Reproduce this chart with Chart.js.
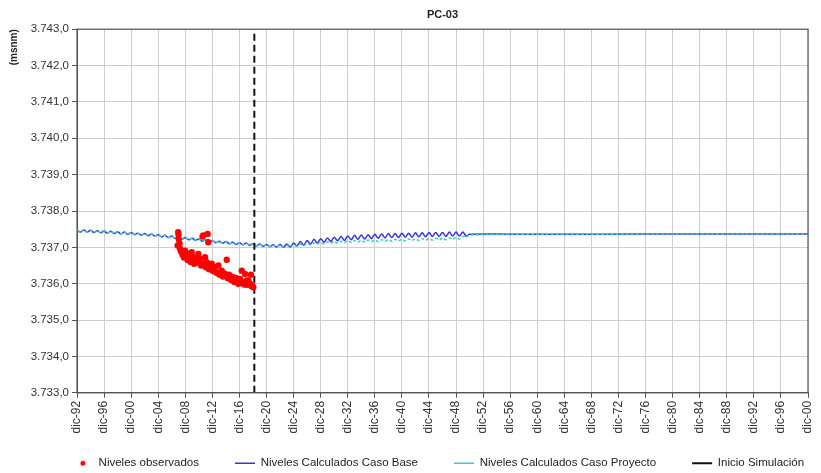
<!DOCTYPE html>
<html>
<head>
<meta charset="utf-8">
<script src="https://cdn.jsdelivr.net/npm/chart.js@4.4.1/dist/chart.umd.min.js"></script>
<style>
  html, body { margin: 0; padding: 0; background: #fff; }
  #wrap { width: 821px; height: 473px; }
</style>
</head>
<body>
<div id="wrap"><canvas id="grafico"></canvas></div>
<script>
// ticks eje x (años, etiqueta dic-AA)
var anioIni = 1992;
var anioFin = 2100;
var pasoTick = 4;
var inicioSimulacion = 2018.2;
var nivelMin = 3733;
var nivelMax = 3743;

// niveles calculados cada medio año desde 1992 hasta 2049.5 [pico, valle]
var casoBase = [
    3737.47, 3737.42, 3737.48, 3737.42, 3737.47, 3737.41, 3737.46, 3737.40,
    3737.45, 3737.39, 3737.44, 3737.38, 3737.43, 3737.37, 3737.42, 3737.36,
    3737.41, 3737.35, 3737.39, 3737.33, 3737.38, 3737.32, 3737.37, 3737.31,
    3737.35, 3737.29, 3737.33, 3737.27, 3737.31, 3737.25, 3737.29, 3737.23,
    3737.27, 3737.21, 3737.25, 3737.19, 3737.23, 3737.17, 3737.21, 3737.15,
    3737.19, 3737.13, 3737.17, 3737.11, 3737.16, 3737.10, 3737.14, 3737.08,
    3737.13, 3737.07, 3737.12, 3737.06, 3737.10, 3737.04, 3737.09, 3737.03,
    3737.08, 3737.02, 3737.07, 3737.01, 3737.08, 3737.00, 3737.09, 3737.01,
    3737.12, 3737.04, 3737.16, 3737.06, 3737.19, 3737.09, 3737.22, 3737.12,
    3737.24, 3737.14, 3737.26, 3737.16, 3737.28, 3737.18, 3737.30, 3737.19,
    3737.31, 3737.21, 3737.33, 3737.22, 3737.34, 3737.23, 3737.35, 3737.24,
    3737.36, 3737.25, 3737.37, 3737.26, 3737.38, 3737.27, 3737.38, 3737.27,
    3737.39, 3737.28, 3737.39, 3737.28, 3737.40, 3737.29, 3737.40, 3737.29,
    3737.41, 3737.30, 3737.41, 3737.30, 3737.41, 3737.30, 3737.42, 3737.31,
    3737.42, 3737.31, 3737.42, 3737.31
];
var casoProyecto = [
    3737.47, 3737.42, 3737.48, 3737.42, 3737.47, 3737.41, 3737.46, 3737.40,
    3737.45, 3737.39, 3737.44, 3737.38, 3737.43, 3737.37, 3737.42, 3737.36,
    3737.41, 3737.35, 3737.39, 3737.33, 3737.38, 3737.32, 3737.37, 3737.31,
    3737.35, 3737.29, 3737.33, 3737.27, 3737.31, 3737.25, 3737.29, 3737.23,
    3737.27, 3737.21, 3737.25, 3737.19, 3737.23, 3737.17, 3737.21, 3737.15,
    3737.19, 3737.13, 3737.17, 3737.11, 3737.16, 3737.10, 3737.14, 3737.08,
    3737.13, 3737.07, 3737.12, 3737.06, 3737.10, 3737.04, 3737.09, 3737.03,
    3737.07, 3737.02, 3737.06, 3737.01, 3737.06, 3737.01, 3737.06, 3737.02,
    3737.07, 3737.03, 3737.09, 3737.05, 3737.11, 3737.07, 3737.12, 3737.09,
    3737.14, 3737.10, 3737.15, 3737.11, 3737.16, 3737.12, 3737.17, 3737.13,
    3737.18, 3737.14, 3737.19, 3737.15, 3737.19, 3737.15, 3737.20, 3737.16,
    3737.20, 3737.16, 3737.21, 3737.17, 3737.21, 3737.17, 3737.22, 3737.18,
    3737.22, 3737.18, 3737.23, 3737.19, 3737.23, 3737.19, 3737.24, 3737.20,
    3737.24, 3737.20, 3737.25, 3737.21, 3737.25, 3737.21, 3737.26, 3737.22,
    3737.27, 3737.23, 3737.30, 3737.28
];
// tramo final sin oscilación
var colaAnios = [2050, 2060, 2070, 2080, 2090, 2100];
var colaBase = [3737.36, 3737.36, 3737.36, 3737.37, 3737.37, 3737.37];
var colaProyecto = [3737.34, 3737.36, 3737.36, 3737.37, 3737.37, 3737.37];

// niveles observados
var obsAnio = [
    2006.88, 2006.95, 2007.00, 2007.05, 2007.15, 2007.22, 2007.35, 2007.47, 2007.60, 2007.66,
    2007.80, 2007.96, 2008.10, 2008.21, 2008.35, 2008.45, 2008.60, 2008.80, 2008.95, 2009.05,
    2009.18, 2009.30, 2009.44, 2009.60, 2009.75, 2009.92, 2010.05, 2010.17, 2010.35, 2010.55,
    2010.66, 2010.75, 2010.91, 2011.05, 2011.17, 2011.30, 2011.40, 2011.50, 2011.70, 2011.90,
    2012.10, 2012.25, 2012.39, 2012.60, 2012.88, 2013.05, 2013.20, 2013.38, 2013.55, 2013.70,
    2013.87, 2014.12, 2014.30, 2014.45, 2014.61, 2014.80, 2015.10, 2015.25, 2015.35, 2015.55,
    2015.83, 2016.00, 2016.09, 2016.34, 2016.45, 2016.57, 2016.70, 2016.82, 2017.00, 2017.15,
    2017.31, 2017.45, 2017.56, 2017.70, 2017.80, 2017.90, 2018.05
];
var obsNivel = [
    3737.05, 3737.42, 3737.35, 3737.22, 3737.10, 3736.96, 3736.90, 3736.87, 3736.80, 3736.83,
    3736.72, 3736.91, 3736.78, 3736.73, 3736.65, 3736.82, 3736.70, 3736.60, 3736.87, 3736.62,
    3736.73, 3736.55, 3736.64, 3736.70, 3736.58, 3736.82, 3736.60, 3736.68, 3736.50, 3737.30,
    3737.33, 3736.55, 3736.73, 3736.45, 3736.59, 3737.37, 3737.14, 3736.40, 3736.48, 3736.55,
    3736.35, 3736.42, 3736.45, 3736.30, 3736.50, 3736.25, 3736.32, 3736.36, 3736.20, 3736.28,
    3736.27, 3736.66, 3736.15, 3736.25, 3736.22, 3736.10, 3736.18, 3736.05, 3736.09, 3736.15,
    3736.00, 3736.05, 3736.13, 3736.36, 3736.02, 3736.04, 3735.98, 3736.27, 3736.08, 3735.97,
    3736.09, 3736.02, 3736.00, 3736.25, 3735.93, 3735.95, 3735.90
];

function serie(valores, colaX, colaY) {
    var puntos = [];
    for (var i = 0; i < valores.length; i++) {
        puntos.push({ x: anioIni + i / 2, y: valores[i] });
    }
    for (var j = 0; j < colaX.length; j++) {
        puntos.push({ x: colaX[j], y: colaY[j] });
    }
    return puntos;
}

var observados = [];
for (var k = 0; k < obsAnio.length; k++) {
    observados.push({ x: obsAnio[k], y: obsNivel[k] });
}

// punto rojo pequeño para la leyenda
var puntoLeyenda = document.createElement('canvas');
puntoLeyenda.width = 8;
puntoLeyenda.height = 8;
var pctx = puntoLeyenda.getContext('2d');
pctx.fillStyle = '#ff0000';
pctx.beginPath();
pctx.arc(4, 4, 2.5, 0, Math.PI * 2);
pctx.fill();

var marco = {
    id: 'marco',
    afterLayout: function (chart) {
        // subir y correr la leyenda para que quede bajo el área del gráfico
        if (chart.legend) {
            chart.legend.top -= 15;
            chart.legend.left += 28;
            chart.legend.right += 28;
        }
    },
    afterDraw: function (chart) {
        var a = chart.chartArea;
        var ctx = chart.ctx;
        ctx.save();
        ctx.strokeStyle = '#555';
        ctx.lineWidth = 1.2;
        ctx.strokeRect(a.left, a.top, a.right - a.left, a.bottom - a.top);
        ctx.restore();
    }
};

var fuente = "'Liberation Sans', Arial, sans-serif";

const ctx = document.getElementById('grafico').getContext('2d');
const chart = new Chart(ctx, {
    type: 'line',
    data: {
        datasets: [{
            label: 'Niveles observados',
            type: 'scatter',
            data: observados,
            backgroundColor: '#ff0000',
            borderColor: '#e00000',
            pointRadius: 3.2,
            borderWidth: 0,
            order: 0
        }, {
            label: 'Niveles Calculados Caso Base',
            data: serie(casoBase, colaAnios, colaBase),
            borderColor: '#3535d8',
            borderWidth: 1.5,
            pointRadius: 0,
            tension: 0.3,
            order: 3
        }, {
            label: 'Niveles Calculados Caso Proyecto',
            data: serie(casoProyecto, colaAnios, colaProyecto),
            borderColor: '#45c6c8',
            borderWidth: 1.5,
            borderDash: [3, 2],
            pointRadius: 0,
            tension: 0.3,
            order: 2
        }, {
            label: 'Inicio Simulación',
            data: [{ x: inicioSimulacion, y: nivelMin }, { x: inicioSimulacion, y: nivelMax }],
            borderColor: '#111',
            borderWidth: 2,
            borderDash: [7, 4],
            pointRadius: 0,
            order: 1
        }]
    },
    options: {
        responsive: true,
        maintainAspectRatio: false,
        animation: false,
        layout: { padding: { left: 8, right: 8, top: 0, bottom: -21 } },
        plugins: {
            title: {
                display: true,
                text: 'PC-03',
                fullSize: false,
                color: '#222',
                font: { family: fuente, size: 11, weight: 'bold' },
                padding: { top: 8, bottom: 8 }
            },
            legend: {
                position: 'bottom',
                labels: {
                    usePointStyle: true,
                    pointStyleWidth: 20,
                    boxHeight: 8,
                    padding: 36,
                    color: '#222',
                    font: { family: fuente, size: 11.5 },
                    sort: function (a, b) { return a.datasetIndex - b.datasetIndex; },
                    generateLabels: function (chart) {
                        var items = Chart.defaults.plugins.legend.labels.generateLabels(chart);
                        items.forEach(function (it) {
                            it.pointStyle = it.datasetIndex === 0 ? puntoLeyenda : 'line';
                        });
                        return items;
                    }
                }
            },
            tooltip: { enabled: false }
        },
        scales: {
            x: {
                type: 'linear',
                min: anioIni,
                max: anioFin,
                afterFit: function (scale) { scale.paddingRight = 13; },
                grid: { color: '#cfcfcf', tickLength: 5, tickColor: '#555' },
                border: { color: '#555' },
                ticks: {
                    stepSize: pasoTick,
                    autoSkip: false,
                    minRotation: 90,
                    maxRotation: 90,
                    color: '#333',
                    font: { family: fuente, size: 12 },
                    callback: function (v) {
                        var aa = String(v % 100);
                        if (aa.length < 2) aa = '0' + aa;
                        return 'dic-' + aa;
                    }
                }
            },
            y: {
                min: nivelMin,
                max: nivelMax,
                afterFit: function (scale) { scale.width = 69; },
                grid: { color: '#cfcfcf', tickLength: 5, tickColor: '#555' },
                border: { color: '#555' },
                title: {
                    display: true,
                    text: '(msnm)',
                    align: 'end',
                    color: '#222',
                    font: { family: fuente, size: 10, weight: 'bold' },
                    padding: { top: 0, bottom: 2 }
                },
                ticks: {
                    stepSize: 1,
                    color: '#333',
                    font: { family: fuente, size: 11.5 },
                    callback: function (v) {
                        var s = v.toFixed(1).replace('.', ',');
                        return s.charAt(0) + '.' + s.slice(1);
                    }
                }
            }
        }
    },
    plugins: [marco]
});
</script>
</body>
</html>
